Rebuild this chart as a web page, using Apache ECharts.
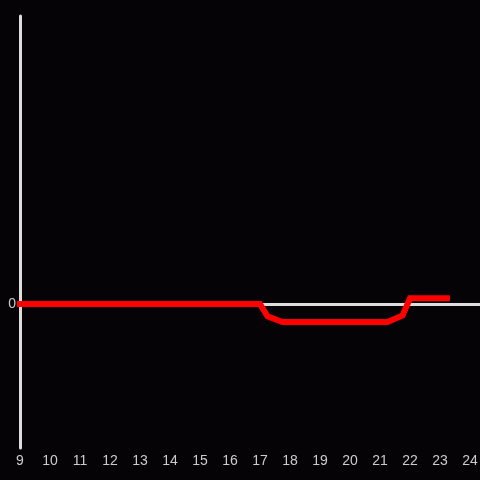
<!DOCTYPE html>
<html><head><meta charset="utf-8">
<script src="https://cdn.jsdelivr.net/npm/echarts@6/dist/echarts.min.js"></script>
<style>html,body{margin:0;padding:0;background:#050305;}#c{width:480px;height:480px;}</style>
</head><body><div id="c"></div>
<script>
var hours = [8.9, 17.0, 17.25, 17.75, 21.25, 21.75, 22.0, 23.33];
var values = [0, 0, -0.085, -0.125, -0.125, -0.08, 0.04, 0.04];
var xTicks = [9,10,11,12,13,14,15,16,17,18,19,20,21,22,23,24];
var yTickShown = [0];

var chart = echarts.init(document.getElementById('c'), null, {renderer:'canvas'});
chart.setOption({
  backgroundColor: '#050305',
  animation: false,
  grid: {left: 20, right: 0, top: 16, bottom: 32, containLabel: false, outerBoundsMode: 'none'},
  xAxis: [{
    type: 'value', min: 9, max: 24.333, interval: 1, position: 'bottom',
    axisLine: {show: false, onZero: false},
    axisTick: {show: false},
    splitLine: {show: false},
    axisLabel: {color: '#cccccc', fontSize: 14, fontFamily: 'Liberation Sans, Arial, sans-serif', margin: 6,
      formatter: function(v){ return xTicks.indexOf(Math.round(v)) >= 0 && Math.abs(v-Math.round(v))<1e-6 ? String(Math.round(v)) : ''; }}
  }, {
    type: 'value', min: 9, max: 24.333, position: 'top',
    axisLine: {show: true, onZero: true, lineStyle: {color: '#dddddd', width: 3}},
    axisTick: {show: false}, axisLabel: {show: false}, splitLine: {show: false}
  }],
  yAxis: {
    type: 'value', min: -1, max: 2, interval: 1,
    axisLine: {show: true, onZero: false, lineStyle: {color: '#dddddd', width: 3}},
    axisTick: {show: false},
    splitLine: {show: false},
    axisLabel: {color: '#cccccc', fontSize: 14, fontFamily: 'Liberation Sans, Arial, sans-serif', margin: 4,
      formatter: function(v){ return yTickShown.indexOf(v) >= 0 ? String(v) : ''; }}
  },
  series: [{
    type: 'line', xAxisIndex: 0,
    data: hours.map(function(h,i){ return [h, values[i]]; }),
    showSymbol: false, symbol: 'none', clip: false, z: 10,
    lineStyle: {color: '#ff0000', width: 6, cap: 'butt', join: 'miter'}
  }]
});
</script></body></html>
